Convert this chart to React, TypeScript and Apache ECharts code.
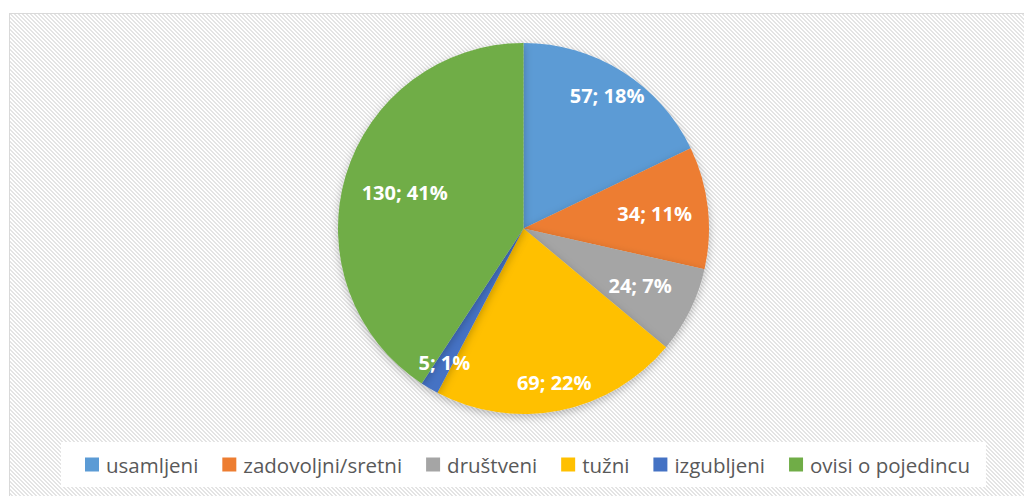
import React, { useEffect, useRef } from "react";
import * as echarts from "echarts";

const categories = ["usamljeni", "zadovoljni/sretni", "društveni", "tužni", "izgubljeni", "ovisi o pojedincu"];
const values = [57, 34, 24, 69, 5, 130];
const colors = ["#5B9BD5", "#ED7D31", "#A5A5A5", "#FFC000", "#4472C4", "#70AD47"];
// radial distance (px) of each data label from the pie centre
const labelRadius = [154, 129, 127, 154, 153, 121];

const stripeTile =
  "data:image/svg+xml;utf8," +
  encodeURIComponent(
    '<svg xmlns="http://www.w3.org/2000/svg" width="4" height="4" shape-rendering="crispEdges">' +
      '<rect width="4" height="4" fill="#ffffff"/>' +
      '<rect x="0" y="0" width="2" height="1" fill="#e4e4e4"/>' +
      '<rect x="1" y="1" width="2" height="1" fill="#e4e4e4"/>' +
      '<rect x="2" y="2" width="2" height="1" fill="#e4e4e4"/>' +
      '<rect x="3" y="3" width="1" height="1" fill="#e4e4e4"/>' +
      '<rect x="0" y="3" width="1" height="1" fill="#e4e4e4"/>' +
      "</svg>"
  );

export default function App() {
  const ref = useRef<HTMLDivElement>(null);
  useEffect(() => {
    if (!ref.current) return;
    const chart = echarts.init(ref.current, null, { renderer: "svg" });
    const data = categories.map((name, i) => ({
      name,
      value: values[i],
      itemStyle: { color: colors[i] },
    }));
    const center = [523.5, 228.5];
    const innerR = 104;
    const outerR = 184;
    const baseR = (innerR + outerR) / 2;
    const total = values.reduce((a, b) => a + b, 0);
    const midAngles: number[] = [];
    let acc = 0;
    values.forEach((v) => {
      midAngles.push(((acc + v / 2) / total) * Math.PI * 2);
      acc += v;
    });
    chart.setOption({
      animation: false,
      backgroundColor: "transparent",
      legend: {
        data: categories.map((name, i) => ({ name, itemStyle: { color: colors[i] } })),
        orient: "horizontal",
        left: 61,
        top: 442,
        padding: [12, 16, 12, 24],
        backgroundColor: "#ffffff",
        icon: "rect",
        itemWidth: 14,
        itemHeight: 14,
        itemGap: 24,
        selectedMode: false,
        textStyle: { fontFamily: "Open Sans", fontSize: 20.5, color: "#595959", padding: [0, 0, 0, 2] },
      },
      series: [
        {
          type: "pie",
          center,
          radius: [0, 185.5],
          startAngle: 90,
          clockwise: true,
          silent: true,
          label: { show: false },
          labelLine: { show: false },
          itemStyle: {
            borderWidth: 0,
            shadowBlur: 8,
            shadowColor: "rgba(0,0,0,0.25)",
            shadowOffsetY: 3,
          },
          data,
        },
        {
          type: "pie",
          center,
          radius: [innerR, outerR],
          startAngle: 90,
          clockwise: true,
          silent: true,
          percentPrecision: 0,
          itemStyle: { color: "rgba(0,0,0,0)", borderWidth: 0 },
          label: {
            show: true,
            position: "inside",
            formatter: "{c}; {d}%",
            color: "#ffffff",
            fontFamily: "Open Sans",
            fontWeight: "bold",
            fontSize: 20,
          },
          labelLine: { show: false },
          labelLayout: (params: any) => {
            const i = params.dataIndex;
            const d = labelRadius[i] - baseR;
            const a = midAngles[i];
            return { dx: d * Math.sin(a), dy: -d * Math.cos(a) };
          },
          data: categories.map((name, i) => ({ name, value: values[i] })),
        },
      ],
    });
    return () => chart.dispose();
  }, []);

  return (
    <div style={{ position: "absolute", left: 0, top: 0, width: 1024, height: 496, background: "#ffffff", overflow: "hidden" }}>
      <div
        style={{
          position: "absolute",
          left: 9,
          top: 13,
          width: 1030,
          height: 500,
          border: "1.5px solid #d9d9d9",
          backgroundImage: `url("${stripeTile}")`,
          backgroundRepeat: "repeat",
          backgroundSize: "4px 4px",
        }}
      />
      <div ref={ref} style={{ position: "absolute", left: 0, top: 0, width: 1024, height: 496 }} />
    </div>
  );
}
